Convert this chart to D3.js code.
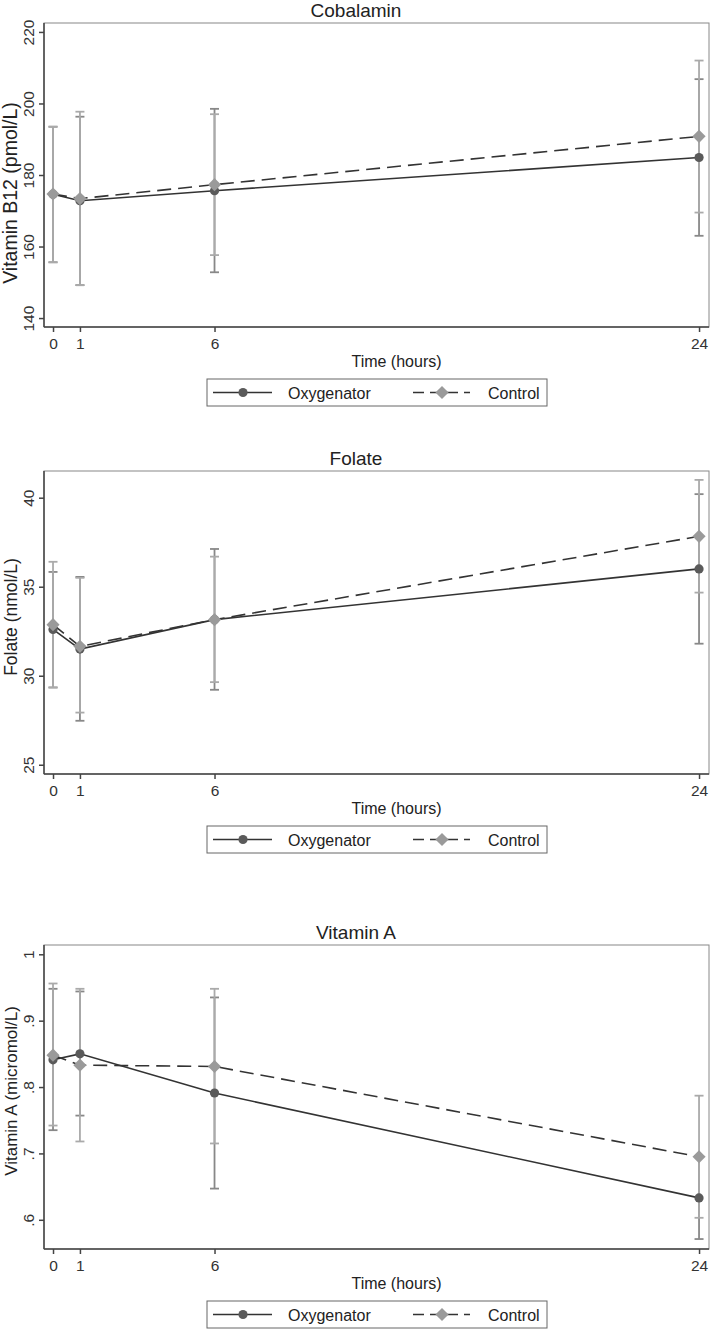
<!DOCTYPE html>
<html>
<head>
<meta charset="utf-8">
<style>
body { margin: 0; background: #fff; }
text { font-family: "Liberation Sans", Arial, sans-serif; fill: #222; }
.frame { fill: none; stroke: #888; stroke-width: 1px; }
.axis path, .axis line { stroke: #444; stroke-width: 1.5px; }
.axis text { font-size: 15.5px; fill: #333; }
.line-oxy { fill: none; stroke: #333; stroke-width: 1.6px; }
.line-ctl { fill: none; stroke: #333; stroke-width: 1.6px; stroke-dasharray: 14,7; }
.bar-oxy { stroke: #888; stroke-width: 1.8px; }
.bar-ctl { stroke: #aaa; stroke-width: 1.8px; }
.dot-oxy { fill: #5a5a5a; }
.dot-ctl { fill: #9a9a9a; }
.legend-box { fill: #fff; stroke: #666; stroke-width: 1px; }
</style>
</head>
<body>
<script src="https://cdn.jsdelivr.net/npm/d3@7"></script>
<script>

var hours = [0, 1, 6, 24];
var seriesNames = ["Oxygenator", "Control"];

// Cobalamin
var b12OxyMean = [174.6, 172.8, 175.6, 184.9];
var b12OxyLow  = [155.6, 149.2, 152.8, 163.0];
var b12OxyHigh = [193.5, 196.3, 198.5, 206.8];
var b12CtlMean = [174.7, 173.4, 177.3, 190.8];
var b12CtlLow  = [155.6, 149.2, 157.6, 169.5];
var b12CtlHigh = [193.5, 197.7, 197.0, 212.0];
var b12Ticks = [140, 160, 180, 200, 220];

// Folate
var folOxyMean = [32.6, 31.5, 33.15, 36.0];
var folOxyLow  = [29.34, 27.47, 29.21, 31.8];
var folOxyHigh = [35.83, 35.55, 37.12, 40.2];
var folCtlMean = [32.87, 31.65, 33.15, 37.83];
var folCtlLow  = [29.34, 27.93, 29.64, 34.67];
var folCtlHigh = [36.4, 35.5, 36.69, 41.0];
var folTicks = [25, 30, 35, 40];

// Vitamin A
var vaOxyMean = [0.841, 0.850, 0.791, 0.633];
var vaOxyLow  = [0.735, 0.757, 0.647, 0.571];
var vaOxyHigh = [0.948, 0.944, 0.935, 0.695];
var vaCtlMean = [0.848, 0.833, 0.831, 0.695];
var vaCtlLow  = [0.742, 0.718, 0.715, 0.603];
var vaCtlHigh = [0.956, 0.948, 0.948, 0.787];
var vaTicks = [0.6, 0.7, 0.8, 0.9, 1];
var vaTickLabels = [".6", ".7", ".8", ".9", "1"];

var width = 712, height = 1333;

var svg = d3.select("body").append("svg")
    .attr("width", width)
    .attr("height", height);

var panels = [
  { title: "Cobalamin", ylab: "Vitamin B12 (pmol/L)", ylabSize: 19.5, ylabY: 193,
    top: 23, bottom: 327, ydom: [137.5, 222.5], ticks: b12Ticks, labels: null,
    oxy: [b12OxyMean, b12OxyLow, b12OxyHigh], ctl: [b12CtlMean, b12CtlLow, b12CtlHigh] },
  { title: "Folate", ylab: "Folate (nmol/L)", ylabSize: 17.5, ylabY: 617,
    top: 471, bottom: 774, ydom: [24.48, 41.5], ticks: folTicks, labels: null,
    oxy: [folOxyMean, folOxyLow, folOxyHigh], ctl: [folCtlMean, folCtlLow, folCtlHigh] },
  { title: "Vitamin A", ylab: "Vitamin A (micromol/L)", ylabSize: 17, ylabY: 1091,
    top: 945, bottom: 1249, ydom: [0.556, 1.014], ticks: vaTicks, labels: vaTickLabels,
    oxy: [vaOxyMean, vaOxyLow, vaOxyHigh], ctl: [vaCtlMean, vaCtlLow, vaCtlHigh] }
];

var left = 44, right = 709;

var x = d3.scaleLinear()
    .domain([-0.335, 24.37])
    .range([left, right]);

var diamond = d3.symbol().type(d3.symbolDiamond2).size(110);

panels.forEach(function(p) {
  var g = svg.append("g");

  var y = d3.scaleLinear()
      .domain(p.ydom)
      .range([p.bottom, p.top]);

  // plot region outline
  g.append("rect")
      .attr("class", "frame")
      .attr("x", left)
      .attr("y", p.top)
      .attr("width", right - left)
      .attr("height", p.bottom - p.top);

  // title
  g.append("text")
      .attr("x", width / 2)
      .attr("y", p.top - 6)
      .attr("text-anchor", "middle")
      .style("font-size", "19px")
      .text(p.title);

  // y axis
  var yAxis = d3.axisLeft(y)
      .tickValues(p.ticks)
      .tickSize(5)
      .tickPadding(4)
      .tickFormat(function(d, i) { return p.labels ? p.labels[i] : d; });

  var ya = g.append("g")
      .attr("class", "axis")
      .attr("transform", "translate(" + left + ",0)")
      .call(yAxis);
  ya.select(".domain").attr("d", "M0," + p.top + "V" + p.bottom);
  ya.selectAll(".tick text")
      .attr("x", null).attr("dy", null)
      .attr("text-anchor", "middle")
      .attr("transform", "translate(-10,0) rotate(-90)");

  // x axis
  var xAxis = d3.axisBottom(x)
      .tickValues(hours)
      .tickSize(5)
      .tickPadding(6)
      .tickFormat(d3.format("d"));

  var xa = g.append("g")
      .attr("class", "axis")
      .attr("transform", "translate(0," + p.bottom + ")")
      .call(xAxis);
  xa.select(".domain").attr("d", "M" + left + ",0H" + right);

  // axis titles
  g.append("text")
      .attr("x", (left + right) / 2 + 20)
      .attr("y", p.bottom + 40)
      .attr("text-anchor", "middle")
      .style("font-size", "16px")
      .text("Time (hours)");

  g.append("text")
      .attr("transform", "translate(17," + p.ylabY + ") rotate(-90)")
      .attr("text-anchor", "middle")
      .style("font-size", p.ylabSize + "px")
      .text(p.ylab);

  // error bars
  [["oxy", p.oxy], ["ctl", p.ctl]].forEach(function(s) {
    var cls = s[0], vals = s[1];
    var bars = g.append("g").selectAll("g")
        .data(hours)
        .enter().append("g")
        .attr("class", "bar-" + cls);
    bars.append("line")
        .attr("x1", function(d) { return x(d); })
        .attr("x2", function(d) { return x(d); })
        .attr("y1", function(d, i) { return y(vals[1][i]); })
        .attr("y2", function(d, i) { return y(vals[2][i]); });
    bars.append("line")
        .attr("x1", function(d) { return x(d) - 4.5; })
        .attr("x2", function(d) { return x(d) + 4.5; })
        .attr("y1", function(d, i) { return y(vals[1][i]); })
        .attr("y2", function(d, i) { return y(vals[1][i]); });
    bars.append("line")
        .attr("x1", function(d) { return x(d) - 4.5; })
        .attr("x2", function(d) { return x(d) + 4.5; })
        .attr("y1", function(d, i) { return y(vals[2][i]); })
        .attr("y2", function(d, i) { return y(vals[2][i]); });
  });

  // lines
  var line = d3.line()
      .x(function(d) { return x(d[0]); })
      .y(function(d) { return y(d[1]); });

  g.append("path")
      .attr("class", "line-oxy")
      .attr("d", line(d3.zip(hours, p.oxy[0])));
  g.append("path")
      .attr("class", "line-ctl")
      .attr("d", line(d3.zip(hours, p.ctl[0])));

  // markers
  g.append("g").selectAll("circle")
      .data(hours)
      .enter().append("circle")
      .attr("class", "dot-oxy")
      .attr("cx", function(d) { return x(d); })
      .attr("cy", function(d, i) { return y(p.oxy[0][i]); })
      .attr("r", 4.6);
  g.append("g").selectAll("path")
      .data(hours)
      .enter().append("path")
      .attr("class", "dot-ctl")
      .attr("d", diamond)
      .attr("transform", function(d, i) {
        return "translate(" + x(d) + "," + y(p.ctl[0][i]) + ")";
      });

  // legend
  var ly = p.bottom + 52;
  var lg = g.append("g").attr("transform", "translate(207," + ly + ")");
  lg.append("rect")
      .attr("class", "legend-box")
      .attr("width", 340)
      .attr("height", 27);
  lg.append("line").attr("class", "line-oxy")
      .attr("x1", 6).attr("x2", 65).attr("y1", 13.5).attr("y2", 13.5);
  lg.append("circle").attr("class", "dot-oxy")
      .attr("cx", 36).attr("cy", 13.5).attr("r", 4.6);
  lg.append("text")
      .attr("x", 81).attr("y", 19.5)
      .style("font-size", "16px")
      .text(seriesNames[0]);
  lg.append("line").attr("class", "line-ctl")
      .attr("x1", 206).attr("x2", 263).attr("y1", 13.5).attr("y2", 13.5)
      .style("stroke-dasharray", "11,6");
  lg.append("path").attr("class", "dot-ctl")
      .attr("d", diamond)
      .attr("transform", "translate(235,13.5)");
  lg.append("text")
      .attr("x", 281).attr("y", 19.5)
      .style("font-size", "16px")
      .text(seriesNames[1]);
});

</script>
</body>
</html>
